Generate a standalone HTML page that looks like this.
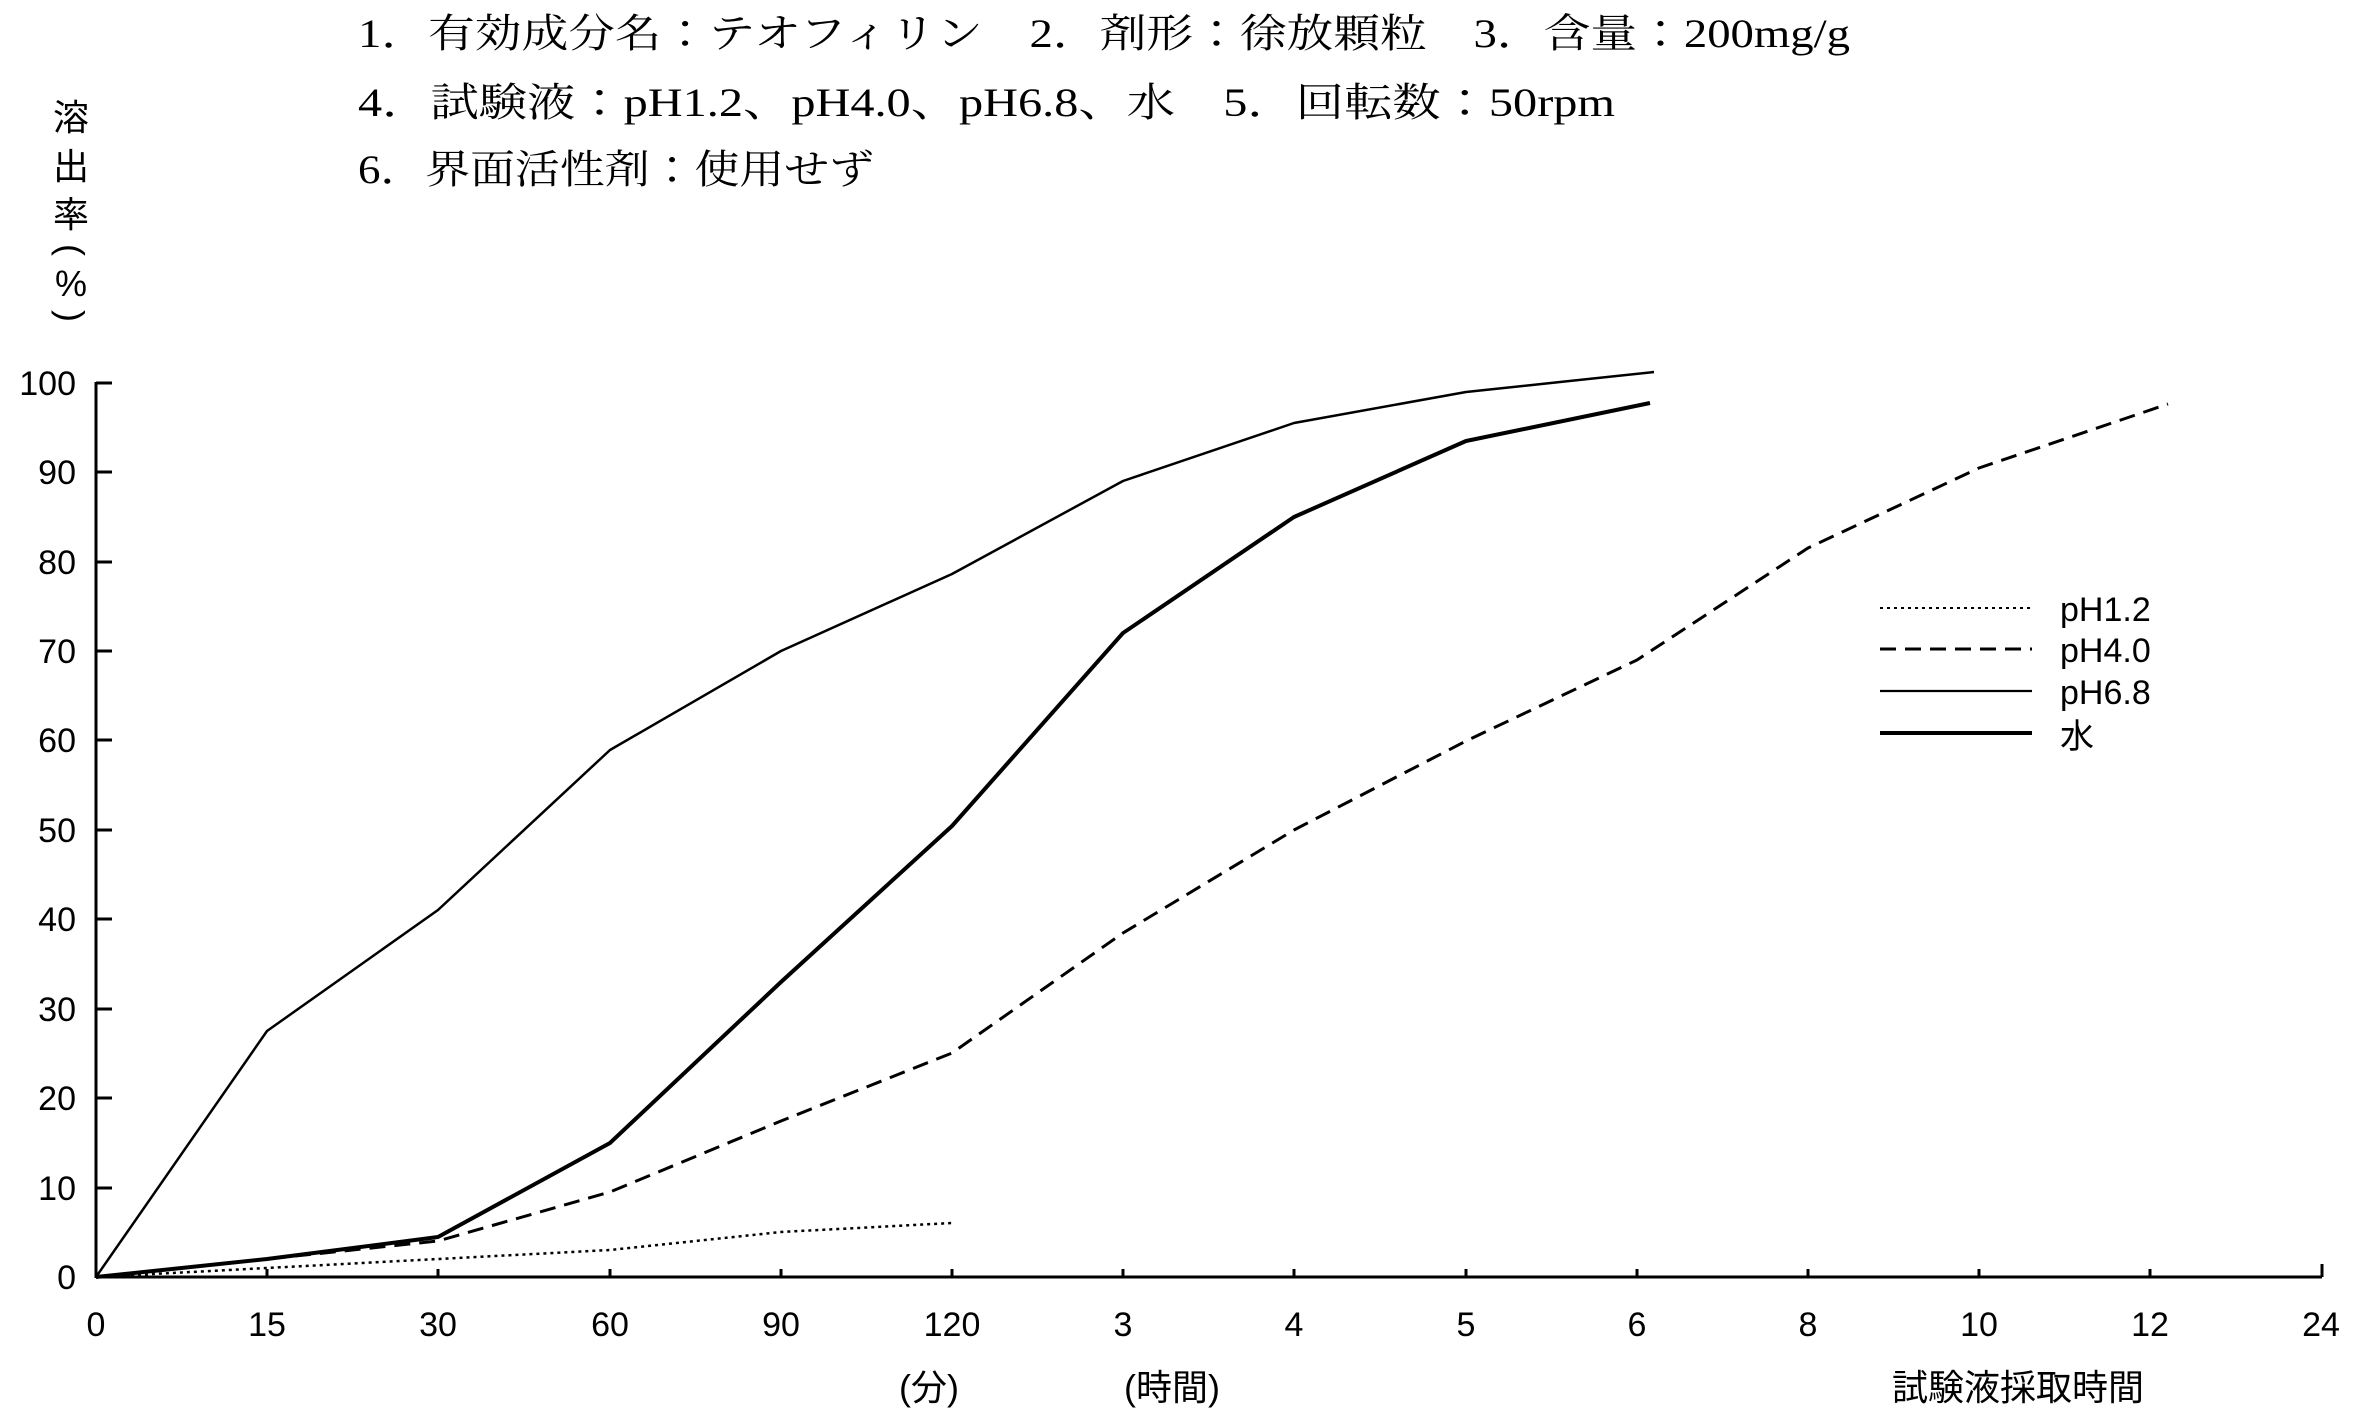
<!DOCTYPE html>
<html><head><meta charset="utf-8"><style>
html,body{margin:0;padding:0;background:#fff;}
svg{display:block;}
text{fill:#000;}
.h{font-family:"Liberation Serif","Noto Serif CJK JP",serif;font-size:40px;}
.t{font-family:"Liberation Sans","Noto Sans CJK JP",sans-serif;font-size:34px;}
.j{font-family:"Liberation Sans","Noto Sans CJK JP",sans-serif;font-size:36px;}
</style></head><body>
<svg width="2362" height="1417" viewBox="0 0 2362 1417" xmlns="http://www.w3.org/2000/svg">
<text class="h" x="358" y="47" textLength="1492" lengthAdjust="spacingAndGlyphs">1．有効成分名：テオフィリン　2．剤形：徐放顆粒　3．含量：200mg/g</text>
<text class="h" x="358" y="116" textLength="1257" lengthAdjust="spacingAndGlyphs">4．試験液：pH1.2、pH4.0、pH6.8、水　5．回転数：50rpm</text>
<text class="h" x="358" y="183" textLength="516" lengthAdjust="spacingAndGlyphs">6．界面活性剤：使用せず</text>
<g class="j" text-anchor="middle">
<text x="71" y="130">溶</text>
<text x="71" y="179">出</text>
<text x="71" y="227">率</text>
<text x="71" y="296">%</text>
</g>
<g class="j">
<text x="71" y="262" text-anchor="middle" transform="rotate(90 71 250)">(</text>
<text x="71" y="328" text-anchor="middle" transform="rotate(90 71 316)">)</text>
</g>
<g stroke="#000" stroke-width="3" fill="none">
<line x1="96" y1="382" x2="96" y2="1278"/>
<line x1="96" y1="1277" x2="2322" y2="1277"/>
<line x1="2322" y1="1277" x2="2322" y2="1264"/>
<path d="M96 383h16M96 472h16M96 562h16M96 651h16M96 740h16M96 830h16M96 919h16M96 1009h16M96 1098h16M96 1188h16"/>
<path d="M267 1277v-8M438 1277v-8M610 1277v-8M781 1277v-8M952 1277v-8M1123 1277v-8M1294 1277v-8M1466 1277v-8M1637 1277v-8M1808 1277v-8M1979 1277v-8M2150 1277v-8"/>
</g>
<g class="t" text-anchor="end">
<text x="76" y="395">100</text><text x="76" y="484">90</text><text x="76" y="574">80</text>
<text x="76" y="663">70</text><text x="76" y="752">60</text><text x="76" y="842">50</text>
<text x="76" y="931">40</text><text x="76" y="1021">30</text><text x="76" y="1110">20</text>
<text x="76" y="1200">10</text><text x="76" y="1289">0</text>
</g>
<g class="t" text-anchor="middle">
<text x="96" y="1336">0</text><text x="267" y="1336">15</text><text x="438" y="1336">30</text>
<text x="610" y="1336">60</text><text x="781" y="1336">90</text><text x="952" y="1336">120</text>
<text x="1123" y="1336">3</text><text x="1294" y="1336">4</text><text x="1466" y="1336">5</text>
<text x="1637" y="1336">6</text><text x="1808" y="1336">8</text><text x="1979" y="1336">10</text>
<text x="2150" y="1336">12</text><text x="2321" y="1336">24</text>
</g>
<g class="j" text-anchor="middle">
<text x="929" y="1400">(分)</text>
<text x="1172" y="1400">(時間)</text>
<text x="2018" y="1400">試験液採取時間</text>
</g>
<g fill="none" stroke="#000" stroke-linejoin="round">
<polyline stroke-width="2.5" stroke-dasharray="3,4" points="96,1277 267,1268 438,1259 610,1250 781,1232 952,1223"/>
<polyline stroke-width="3" stroke-dasharray="16,9" points="96,1277 267,1259 438,1241 610,1192 781,1121 952,1053 1123,933 1294,830 1466,741 1637,660 1808,548 1979,468 2168,404"/>
<polyline stroke-width="2.5" points="96,1277 267,1031 438,910 610,750 781,651 952,574 1123,481 1294,423 1466,392 1654,372"/>
<polyline stroke-width="4" points="96,1277 267,1259 438,1237 610,1143 781,982 952,826 1123,633 1294,517 1466,441 1650,403"/>
</g>
<g fill="none" stroke="#000">
<line x1="1880" y1="608" x2="2032" y2="608" stroke-width="2" stroke-dasharray="3,4"/>
<line x1="1880" y1="649" x2="2032" y2="649" stroke-width="3" stroke-dasharray="16,9"/>
<line x1="1880" y1="691" x2="2032" y2="691" stroke-width="2.2"/>
<line x1="1880" y1="733" x2="2032" y2="733" stroke-width="4"/>
</g>
<g class="t">
<text x="2060" y="621">pH1.2</text>
<text x="2060" y="662">pH4.0</text>
<text x="2060" y="704">pH6.8</text>
<text x="2060" y="748">水</text>
</g>
</svg>
</body></html>
